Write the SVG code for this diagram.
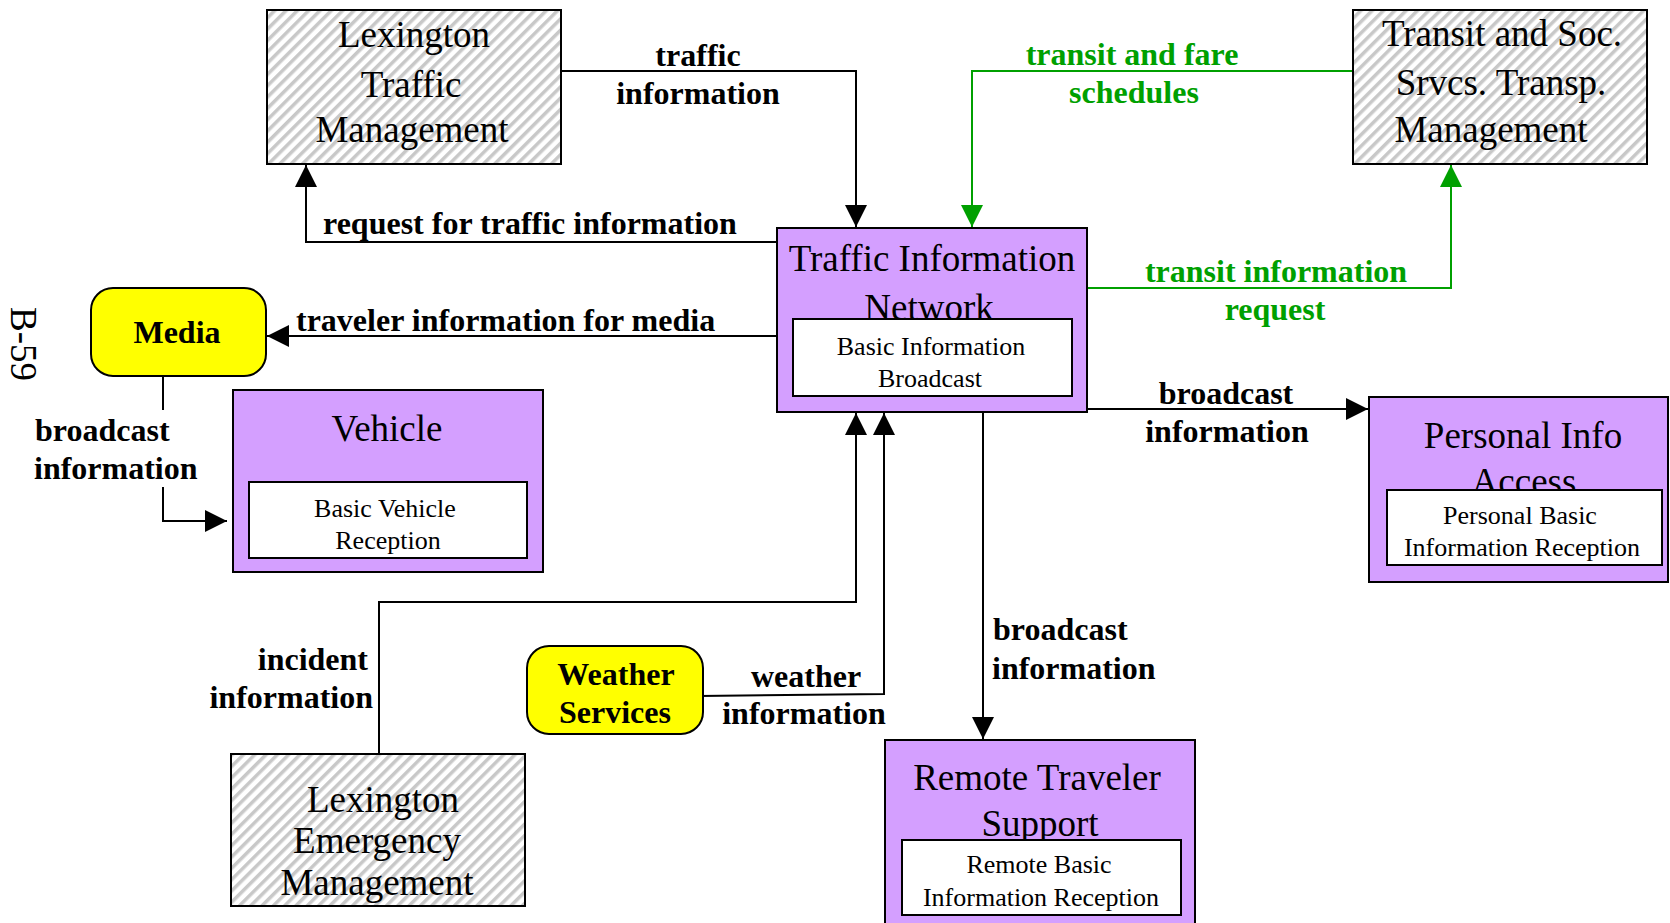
<svg xmlns="http://www.w3.org/2000/svg" width="1670" height="923" viewBox="0 0 1670 923">
<defs>
<pattern id="hatch" patternUnits="userSpaceOnUse" width="8" height="8" patternTransform="rotate(45)">
<rect width="8" height="8" fill="#ffffff"/>
<rect width="3.5" height="8" fill="#c8c8c8"/>
</pattern>
<marker id="arr" markerUnits="userSpaceOnUse" markerWidth="22" markerHeight="22" viewBox="0 0 22 22" refX="22" refY="11" orient="auto">
<path d="M0,0 L22,11 L0,22 z" fill="#000"/>
</marker>
<marker id="arrG" markerUnits="userSpaceOnUse" markerWidth="22" markerHeight="22" viewBox="0 0 22 22" refX="22" refY="11" orient="auto">
<path d="M0,0 L22,11 L0,22 z" fill="#00a000"/>
</marker>
</defs>
<style>
.hat{fill:url(#hatch);stroke:#000;stroke-width:2}
.pur{fill:#d49fff;stroke:#000;stroke-width:2}
.inner{fill:#fff;stroke:#000;stroke-width:2}
.term{fill:#ffff00;stroke:#000;stroke-width:2}
.t{font-family:"Liberation Serif","Times New Roman",serif;font-size:37px;fill:#000;text-anchor:middle}
.s{font-family:"Liberation Serif","Times New Roman",serif;font-size:26px;fill:#000;text-anchor:middle}
.b{font-family:"Liberation Serif","Times New Roman",serif;font-size:32px;font-weight:bold;fill:#000}
.g{fill:#00a000}
.m{text-anchor:middle}
.e{text-anchor:end}
.ln{fill:none;stroke:#000;stroke-width:2}
.lg{fill:none;stroke:#00a000;stroke-width:2}
</style>
<rect width="1670" height="923" fill="#fff"/>

<text class="t" style="text-anchor:start" transform="translate(11,307) rotate(90)">B-59</text>

<g id="connectors">
<path class="ln" d="M561,71 H856 V227" marker-end="url(#arr)"/>
<path class="ln" d="M777,242 H306 V165" marker-end="url(#arr)"/>
<path class="ln" d="M777,336 H267" marker-end="url(#arr)"/>
<path class="ln" d="M163,376 V410"/>
<path class="ln" d="M163,487 V521 H227" marker-end="url(#arr)"/>
<path class="lg" d="M1353,71 H972 V227" marker-end="url(#arrG)"/>
<path class="lg" d="M1087,288 H1451 V165" marker-end="url(#arrG)"/>
<path class="ln" d="M1087,409 H1368" marker-end="url(#arr)"/>
<path class="ln" d="M983,412 V739" marker-end="url(#arr)"/>
<path class="ln" d="M379,753 V602 H856 V413" marker-end="url(#arr)"/>
<path class="ln" d="M699,696 L884,694 V413" marker-end="url(#arr)"/>
</g>

<g id="labels">
<text class="b m" x="698" y="66">traffic</text>
<text class="b m" x="698" y="104">information</text>
<text class="b" x="323" y="234">request for traffic information</text>
<text class="b" x="296" y="331">traveler information for media</text>
<text class="b" x="35" y="441">broadcast</text>
<text class="b" x="34" y="479">information</text>
<text class="b e" x="368" y="670">incident</text>
<text class="b e" x="373" y="708">information</text>
<text class="b m" x="806" y="687">weather</text>
<text class="b m" x="804" y="724">information</text>
<text class="b" x="993" y="640">broadcast</text>
<text class="b" x="992" y="679">information</text>
<text class="b m" x="1226" y="404">broadcast</text>
<text class="b m" x="1227" y="442">information</text>
<text class="b m g" x="1132" y="65">transit and fare</text>
<text class="b m g" x="1134" y="103">schedules</text>
<text class="b m g" x="1276" y="282">transit information</text>
<text class="b m g" x="1275" y="320">request</text>
</g>

<g id="lexington-traffic-management">
<rect class="hat" x="267" y="10" width="294" height="154"/>
<text class="t" x="414" y="47">Lexington</text>
<text class="t" x="411" y="97">Traffic</text>
<text class="t" x="412" y="142">Management</text>
</g>

<g id="transit-soc-srvcs">
<rect class="hat" x="1353" y="10" width="294" height="154"/>
<text class="t" x="1502" y="46">Transit and Soc.</text>
<text class="t" x="1501" y="95">Srvcs. Transp.</text>
<text class="t" x="1491" y="142">Management</text>
</g>

<g id="traffic-information-network">
<rect class="pur" x="777" y="228" width="310" height="184"/>
<text class="t" x="932" y="271">Traffic Information</text>
<text class="t" x="929" y="320">Network</text>
<rect class="inner" x="793" y="319" width="279" height="77"/>
<text class="s" x="931" y="355">Basic Information</text>
<text class="s" x="930" y="387">Broadcast</text>
</g>

<g id="media">
<rect class="term" x="91" y="288" width="175" height="88" rx="22" ry="22"/>
<text class="b m" x="177" y="343">Media</text>
</g>

<g id="vehicle">
<rect class="pur" x="233" y="390" width="310" height="182"/>
<text class="t" x="387" y="441">Vehicle</text>
<rect class="inner" x="249" y="482" width="278" height="76"/>
<text class="s" x="385" y="517">Basic Vehicle</text>
<text class="s" x="388" y="549">Reception</text>
</g>

<g id="personal-info-access">
<rect class="pur" x="1369" y="397" width="299" height="185"/>
<text class="t" x="1523" y="448">Personal Info</text>
<text class="t" x="1524" y="494">Access</text>
<rect class="inner" x="1387" y="490" width="275" height="75"/>
<text class="s" x="1520" y="524">Personal Basic</text>
<text class="s" x="1522" y="556">Information Reception</text>
</g>

<g id="remote-traveler-support">
<rect class="pur" x="885" y="740" width="310" height="190"/>
<text class="t" x="1037" y="790">Remote Traveler</text>
<text class="t" x="1040" y="836">Support</text>
<rect class="inner" x="902" y="840" width="279" height="75"/>
<text class="s" x="1039" y="873">Remote Basic</text>
<text class="s" x="1041" y="906">Information Reception</text>
</g>

<g id="weather-services">
<rect class="term" x="527" y="646" width="176" height="88" rx="22" ry="22"/>
<text class="b m" x="616" y="685">Weather</text>
<text class="b m" x="615" y="723">Services</text>
</g>

<g id="lexington-emergency-management">
<rect class="hat" x="231" y="754" width="294" height="152"/>
<text class="t" x="383" y="812">Lexington</text>
<text class="t" x="377" y="853">Emergency</text>
<text class="t" x="377" y="895">Management</text>
</g>
</svg>
